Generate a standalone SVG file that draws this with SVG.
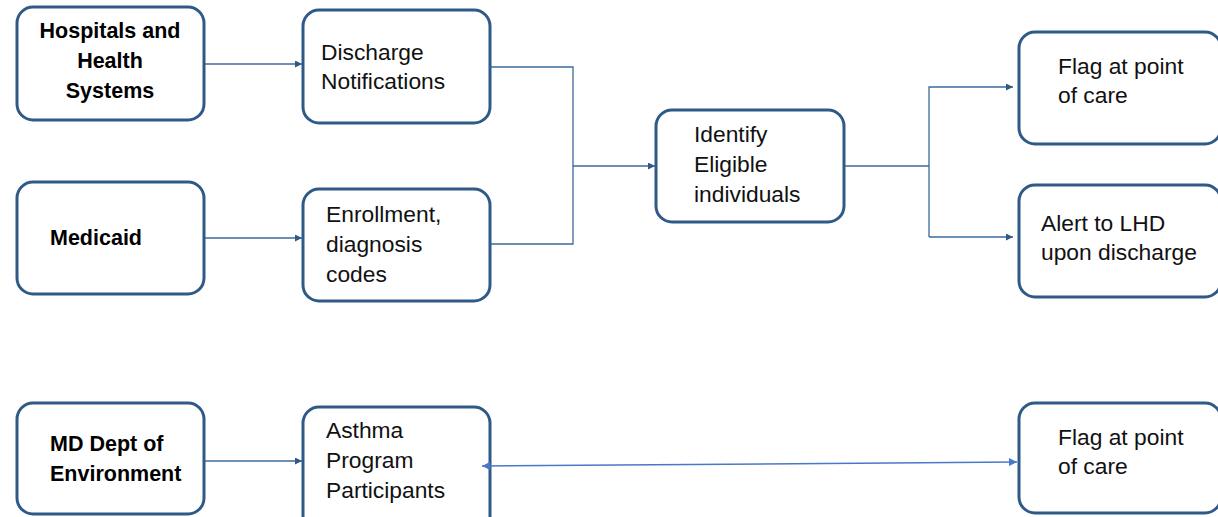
<svg xmlns="http://www.w3.org/2000/svg" width="1218" height="517" viewBox="0 0 1218 517">
<defs>
<style>
.box{fill:#fff;stroke:#2F5A88;stroke-width:3}
.b{font-family:"Liberation Sans",Arial,sans-serif;font-weight:bold;font-size:21.5px;fill:#000}
.r{font-family:"Liberation Sans",Arial,sans-serif;font-size:22.8px;fill:#111}
.c{fill:none;stroke:#3B6A9C;stroke-width:1.3}
.c2{fill:none;stroke:#4A78C8;stroke-width:1.5}
</style>
<marker id="ah" viewBox="0 0 10 10" refX="10" refY="5" markerWidth="8" markerHeight="7" markerUnits="userSpaceOnUse" orient="auto">
<path d="M0,0 L10,5 L0,10 z" fill="#2F5A88"/>
</marker>
<marker id="ah2" viewBox="0 0 10 10" refX="10" refY="5" markerWidth="8" markerHeight="8" markerUnits="userSpaceOnUse" orient="auto-start-reverse">
<path d="M0,0 L10,5 L0,10 z" fill="#4A78C8"/>
</marker>
</defs>
<rect width="1218" height="517" fill="#fff"/>
<g id="hospitals">
<rect class="box" x="17" y="7" width="187" height="113" rx="16"/>
<text class="b" text-anchor="middle"><tspan x="110" y="38">Hospitals and</tspan><tspan x="110" y="68">Health</tspan><tspan x="110" y="98">Systems</tspan></text>
</g>
<g id="discharge">
<rect class="box" x="303" y="10" width="187" height="113" rx="16"/>
<text class="r"><tspan x="321" y="60">Discharge</tspan><tspan x="321" y="89">Notifications</tspan></text>
</g>
<g id="medicaid">
<rect class="box" x="17" y="182" width="187" height="112" rx="16"/>
<text class="b" x="50" y="245">Medicaid</text>
</g>
<g id="enrollment">
<rect class="box" x="303" y="189" width="187" height="112" rx="16"/>
<text class="r"><tspan x="326" y="222">Enrollment,</tspan><tspan x="326" y="252">diagnosis</tspan><tspan x="326" y="282">codes</tspan></text>
</g>
<g id="identify">
<rect class="box" x="656" y="110" width="188" height="112" rx="16"/>
<text class="r"><tspan x="694" y="142">Identify</tspan><tspan x="694" y="172">Eligible</tspan><tspan x="694" y="202">individuals</tspan></text>
</g>
<g id="flag1">
<rect class="box" x="1019" y="32" width="202" height="112" rx="16"/>
<text class="r"><tspan x="1058" y="74">Flag at point</tspan><tspan x="1058" y="103">of care</tspan></text>
</g>
<g id="alert">
<rect class="box" x="1019" y="185" width="202" height="112" rx="16"/>
<text class="r"><tspan x="1041" y="231">Alert to LHD</tspan><tspan x="1041" y="260">upon discharge</tspan></text>
</g>
<g id="mdenv">
<rect class="box" x="17" y="403" width="187" height="111" rx="16"/>
<text class="b"><tspan x="50" y="451">MD Dept of</tspan><tspan x="50" y="481">Environment</tspan></text>
</g>
<g id="asthma">
<rect class="box" x="303" y="407" width="187" height="125" rx="16"/>
<text class="r"><tspan x="326" y="438">Asthma</tspan><tspan x="326" y="468">Program</tspan><tspan x="326" y="498">Participants</tspan></text>
</g>
<g id="flag2">
<rect class="box" x="1019" y="403" width="202" height="110" rx="16"/>
<text class="r"><tspan x="1058" y="445">Flag at point</tspan><tspan x="1058" y="474">of care</tspan></text>
</g>
<g id="connectors">
<path class="c" d="M205,64 H302" marker-end="url(#ah)"/>
<path class="c" d="M205,238 H302" marker-end="url(#ah)"/>
<path class="c" d="M491,67 H573 V244 H491"/>
<path class="c" d="M573,166 H655" marker-end="url(#ah)"/>
<path class="c" d="M845,166 H929"/>
<path class="c" d="M929,237 V87 H1013" marker-end="url(#ah)"/>
<path class="c" d="M929,237 H1013" marker-end="url(#ah)"/>
<path class="c" d="M205,461 H302" marker-end="url(#ah)"/>
<path class="c2" d="M482,466 L1017,462" marker-start="url(#ah2)" marker-end="url(#ah2)"/>
</g>
</svg>
